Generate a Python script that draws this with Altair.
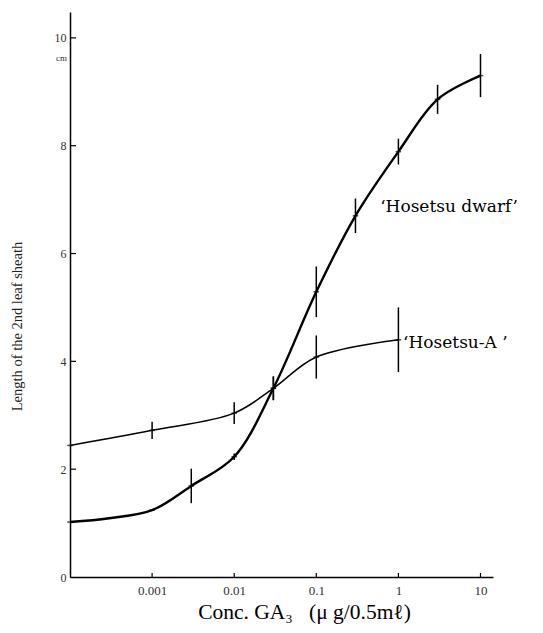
import altair as alt
import pandas as pd

# Hosetsu dwarf
dwarf_x = [0.0001, 0.0003, 0.001, 0.003, 0.01, 0.03, 0.1, 0.3, 1, 3, 10]
dwarf_y = [1.02, 1.09, 1.24, 1.69, 2.23, 3.50, 5.29, 6.70, 7.89, 8.86, 9.30]
dwarf_err = [0, 0, 0, 0.32, 0.06, 0.22, 0.47, 0.32, 0.24, 0.27, 0.40]

# Hosetsu-A
a_x = [0.0001, 0.001, 0.01, 0.03, 0.1, 1]
a_y = [2.44, 2.72, 3.04, 3.50, 4.08, 4.40]
a_err = [0, 0.16, 0.20, 0.22, 0.40, 0.60]

x_ticks = [0.001, 0.01, 0.1, 1, 10]
x_tick_labels = ["0.001", "0.01", "0.1", "1", "10"]
y_ticks = [0, 2, 4, 6, 8, 10]

labels = ["‘Hosetsu dwarf’", "‘Hosetsu-A ’"]
label_x = [0.60, 1.14]
label_y = [6.86, 4.34]

dwarf = pd.DataFrame({"x": dwarf_x, "y": dwarf_y, "e": dwarf_err, "s": "dwarf"})
hosa = pd.DataFrame({"x": a_x, "y": a_y, "e": a_err, "s": "A"})
for d in (dwarf, hosa):
    d["lo"] = d["y"] - d["e"]
    d["hi"] = d["y"] + d["e"]
err = pd.concat([dwarf, hosa])
err = err[err["e"] > 0]

W, H = 423, 565
FONT = "Liberation Serif"
xscale = alt.Scale(type="log", domain=[0.0001, 14.2], nice=False)
yscale = alt.Scale(domain=[0, 10.48], nice=False)

label_expr = "{" + ",".join(f"'{v}':'{l}'" for v, l in zip(x_ticks, x_tick_labels)) + "}"

base_x = alt.X("x:Q", scale=xscale,
               axis=alt.Axis(values=x_ticks, labelExpr=f"{label_expr}[datum.value] || datum.label",
                             grid=False, tickSize=0, labelPadding=7, labelFont=FONT, labelFontSize=13,
                             labelColor="#333", domainColor="black", domainWidth=1.5,
                             title="Conc. GA₃\u00a0\u00a0\u00a0(μ\u00a0g/0.5mℓ)", titleFont=FONT, titleFontSize=21.5,
                             titleFontWeight="normal", titleColor="black",
                             titleX=234, titleY=46, titleBaseline="bottom"))
base_y = alt.Y("y:Q", scale=yscale,
               axis=alt.Axis(values=y_ticks, format="d", grid=False, tickSize=0, labelPadding=4,
                             labelFont=FONT, labelFontSize=12, labelColor="#333",
                             domainColor="black", domainWidth=1.5,
                             title="Length of the 2nd leaf sheath", titleFont=FONT, titleFontSize=14.5,
                             titleFontWeight="normal", titleColor="#222",
                             titleX=-46, titleY=314))

line_d = alt.Chart(dwarf).mark_line(color="black", strokeWidth=2.4, interpolate="catmull-rom").encode(
    x=base_x, y=base_y)
line_a = alt.Chart(hosa).mark_line(color="black", strokeWidth=1.5, interpolate="catmull-rom").encode(
    x="x:Q", y="y:Q")

bars = alt.Chart(err).mark_rule(color="black", strokeWidth=1.5).encode(
    x="x:Q", y="lo:Q", y2="hi:Q")

pts = alt.Chart(pd.concat([dwarf, hosa])).mark_point(shape="stroke", size=30, color="black",
                                                     strokeWidth=1.5, filled=False).encode(
    x="x:Q", y="y:Q")

yt = alt.Chart(pd.DataFrame({"v": [2, 4, 6, 8, 10]})).mark_rule(color="black", strokeWidth=1.2).encode(
    y="v:Q", x=alt.value(0), x2=alt.value(6))
xt = alt.Chart(pd.DataFrame({"v": x_ticks})).mark_rule(color="black", strokeWidth=1.2).encode(
    x="v:Q", y=alt.value(H), y2=alt.value(H - 4))

cm = alt.Chart(pd.DataFrame({"t": ["cm"], "y": [9.62]})).mark_text(
    font=FONT, fontSize=9, color="#333", align="right", baseline="middle").encode(
    text="t:N", y="y:Q", x=alt.value(-3))

lab = alt.Chart(pd.DataFrame({"t": labels, "x": label_x, "y": label_y})).mark_text(
    font="DejaVu Serif", fontSize=17, color="black", align="left", baseline="middle").encode(
    text="t:N", x="x:Q", y="y:Q")

chart = alt.layer(line_d, line_a, bars, pts, yt, xt, cm, lab).properties(
    width=W, height=H,
    autosize=alt.AutoSizeParams(type="none"),
    padding={"left": 70, "top": 12, "right": 50, "bottom": 56},
).configure(background="white", view=alt.ViewConfig(stroke=None))

chart.save("out.html", embed_options={"renderer": "svg", "actions": False})
